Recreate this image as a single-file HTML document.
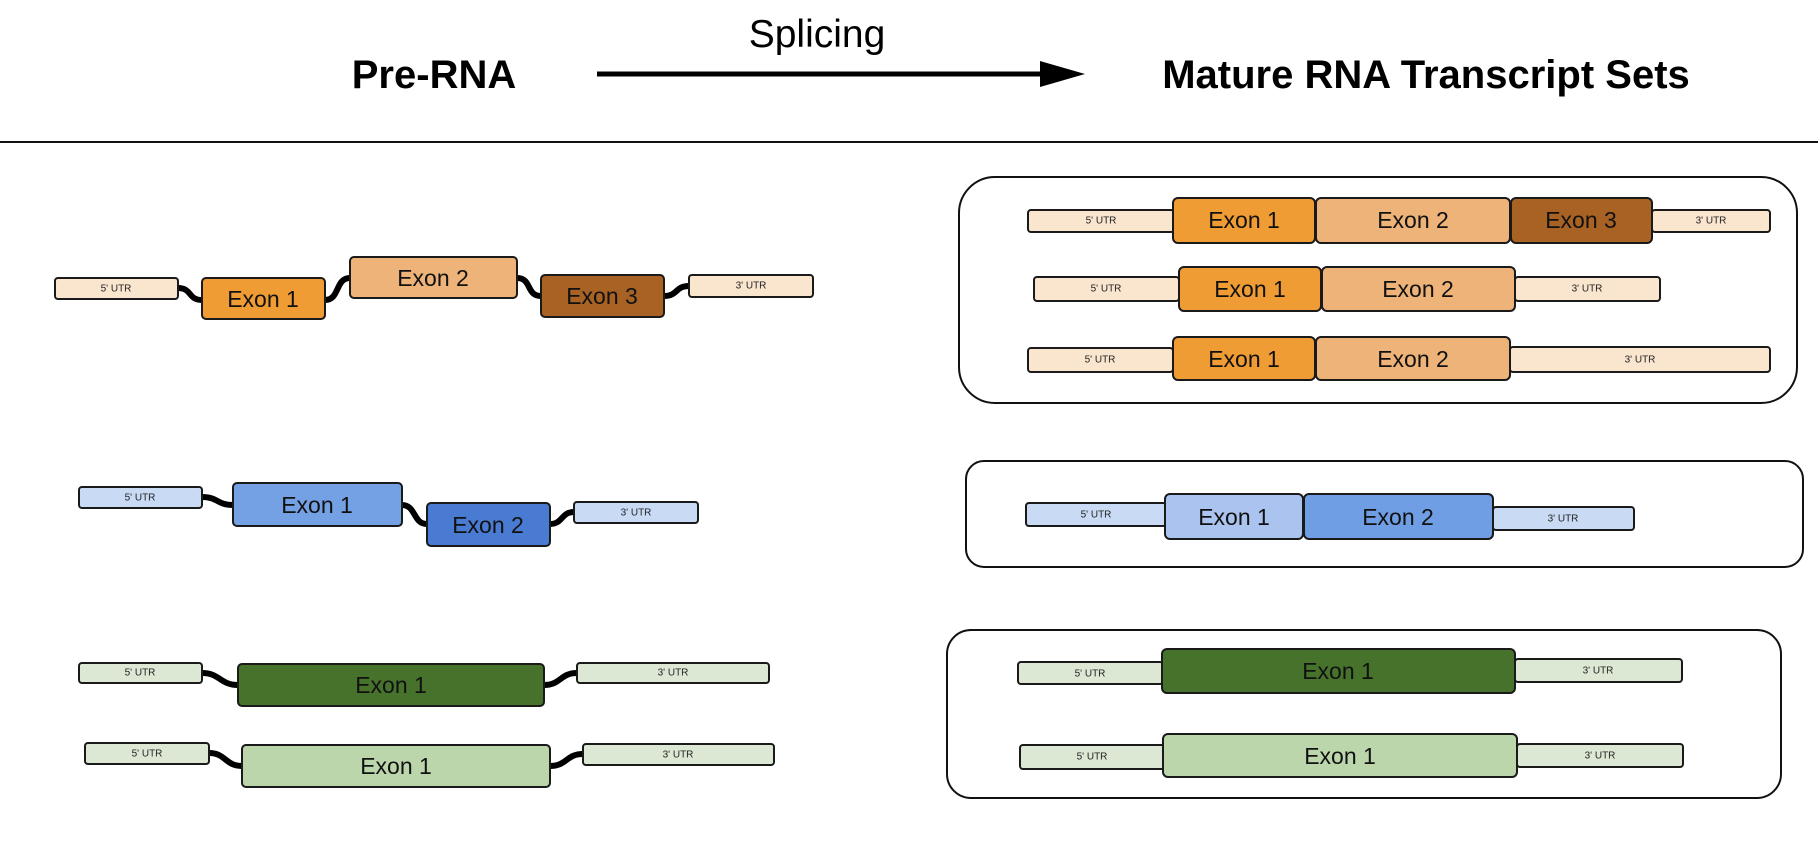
<!DOCTYPE html>
<html><head><meta charset="utf-8"><style>
html,body{margin:0;padding:0;background:#fff;}
svg{display:block;font-family:"Liberation Sans",Arial,sans-serif;}
.b{stroke:#1a1a1a;stroke-width:2;}
.c{fill:none;stroke:#000;stroke-width:6;}
.e{font-size:23px;text-anchor:middle;dominant-baseline:central;fill:#111;}
.u{font-size:10px;text-anchor:middle;dominant-baseline:central;fill:#222;}
</style></head><body>
<svg width="1818" height="850" viewBox="0 0 1818 850">
<text x="817" y="47" font-size="39" text-anchor="middle">Splicing</text>
<text x="434" y="88" font-size="40" font-weight="bold" text-anchor="middle">Pre-RNA</text>
<line x1="597" y1="74" x2="1045" y2="74" stroke="#000" stroke-width="5"/>
<polygon points="1040,61 1085,74 1040,87" fill="#000"/>
<text x="1426" y="88" font-size="40" font-weight="bold" text-anchor="middle">Mature RNA Transcript Sets</text>
<line x1="0" y1="142" x2="1818" y2="142" stroke="#111" stroke-width="2"/>

<!-- Left row 1 -->
<path class="c" d="M178 288 C192 288 188 300 202 300"/>
<path class="c" d="M325 300 C340 300 335 278 350 278"/>
<path class="c" d="M517 278 C532 278 526 296 541 296"/>
<path class="c" d="M664 296 C678 296 675 286 689 286"/>
<rect class="b" x="55" y="278" width="123" height="21" rx="3" fill="#fae5cf"/><text class="u" x="116" y="289">5' UTR</text>
<rect class="b" x="202" y="278" width="123" height="41" rx="4" fill="#f09c35"/><text class="e" x="263" y="299">Exon 1</text>
<rect class="b" x="350" y="257" width="167" height="41" rx="4" fill="#edb378"/><text class="e" x="433" y="278">Exon 2</text>
<rect class="b" x="541" y="275" width="123" height="42" rx="4" fill="#a86224"/><text class="e" x="602" y="296">Exon 3</text>
<rect class="b" x="689" y="275" width="124" height="22" rx="3" fill="#fae5cf"/><text class="u" x="751" y="286">3' UTR</text>

<!-- Left row 2 -->
<path class="c" d="M202 497 C218 497 217 505 233 505"/>
<path class="c" d="M402 505 C416 505 413 524 427 524"/>
<path class="c" d="M550 524 C563 524 561 512 574 512"/>
<rect class="b" x="79" y="487" width="123" height="21" rx="3" fill="#c9daf5"/><text class="u" x="140" y="498">5' UTR</text>
<rect class="b" x="233" y="483" width="169" height="43" rx="4" fill="#74a0e4"/><text class="e" x="317" y="505">Exon 1</text>
<rect class="b" x="427" y="503" width="123" height="43" rx="4" fill="#4a7bd2"/><text class="e" x="488" y="525">Exon 2</text>
<rect class="b" x="574" y="502" width="124" height="21" rx="3" fill="#c9daf5"/><text class="u" x="636" y="513">3' UTR</text>

<!-- Left row 3 -->
<path class="c" d="M202 673 C220 673 220 685 238 685"/>
<path class="c" d="M544 685 C561 685 560 673 577 673"/>
<rect class="b" x="79" y="663" width="123" height="20" rx="3" fill="#dce8d4"/><text class="u" x="140" y="673">5' UTR</text>
<rect class="b" x="238" y="664" width="306" height="42" rx="4" fill="#47722b"/><text class="e" x="391" y="685">Exon 1</text>
<rect class="b" x="577" y="663" width="192" height="20" rx="3" fill="#dce8d4"/><text class="u" x="673" y="673">3' UTR</text>

<!-- Left row 4 -->
<path class="c" d="M209 753 C226 753 225 766 242 766"/>
<path class="c" d="M550 766 C567 766 566 754 583 754"/>
<rect class="b" x="85" y="743" width="124" height="21" rx="3" fill="#dce8d4"/><text class="u" x="147" y="754">5' UTR</text>
<rect class="b" x="242" y="745" width="308" height="42" rx="4" fill="#bcd6ac"/><text class="e" x="396" y="766">Exon 1</text>
<rect class="b" x="583" y="744" width="191" height="21" rx="3" fill="#dce8d4"/><text class="u" x="678" y="755">3' UTR</text>

<!-- Right box 1 -->
<rect x="959" y="177" width="838" height="226" rx="36" fill="none" stroke="#111" stroke-width="2"/>
<rect class="b" x="1028" y="210" width="146" height="22" rx="3" fill="#fae5cf"/><text class="u" x="1101" y="221">5' UTR</text>
<rect class="b" x="1652" y="210" width="118" height="22" rx="3" fill="#fae5cf"/><text class="u" x="1711" y="221">3' UTR</text>
<rect class="b" x="1173" y="198" width="142" height="45" rx="5" fill="#f09c35"/><text class="e" x="1244" y="220">Exon 1</text>
<rect class="b" x="1316" y="198" width="194" height="45" rx="5" fill="#edb378"/><text class="e" x="1413" y="220">Exon 2</text>
<rect class="b" x="1511" y="198" width="141" height="45" rx="5" fill="#a86224"/><text class="e" x="1581" y="220">Exon 3</text>

<rect class="b" x="1034" y="277" width="145" height="24" rx="3" fill="#fae5cf"/><text class="u" x="1106" y="289">5' UTR</text>
<rect class="b" x="1515" y="277" width="145" height="24" rx="3" fill="#fae5cf"/><text class="u" x="1587" y="289">3' UTR</text>
<rect class="b" x="1179" y="267" width="142" height="44" rx="5" fill="#f09c35"/><text class="e" x="1250" y="289">Exon 1</text>
<rect class="b" x="1322" y="267" width="193" height="44" rx="5" fill="#edb378"/><text class="e" x="1418" y="289">Exon 2</text>

<rect class="b" x="1028" y="348" width="145" height="24" rx="3" fill="#fae5cf"/><text class="u" x="1100" y="360">5' UTR</text>
<rect class="b" x="1510" y="347" width="260" height="25" rx="3" fill="#fae5cf"/><text class="u" x="1640" y="360">3' UTR</text>
<rect class="b" x="1173" y="337" width="142" height="43" rx="5" fill="#f09c35"/><text class="e" x="1244" y="359">Exon 1</text>
<rect class="b" x="1316" y="337" width="194" height="43" rx="5" fill="#edb378"/><text class="e" x="1413" y="359">Exon 2</text>

<!-- Right box 2 -->
<rect x="966" y="461" width="837" height="106" rx="18" fill="none" stroke="#111" stroke-width="2"/>
<rect class="b" x="1026" y="503" width="140" height="23" rx="3" fill="#c9daf5"/><text class="u" x="1096" y="515">5' UTR</text>
<rect class="b" x="1493" y="507" width="141" height="23" rx="3" fill="#c9daf5"/><text class="u" x="1563" y="519">3' UTR</text>
<rect class="b" x="1165" y="494" width="138" height="45" rx="5" fill="#abc4ef"/><text class="e" x="1234" y="517">Exon 1</text>
<rect class="b" x="1304" y="494" width="189" height="45" rx="5" fill="#6f9ee4"/><text class="e" x="1398" y="517">Exon 2</text>

<!-- Right box 3 -->
<rect x="947" y="630" width="834" height="168" rx="24" fill="none" stroke="#111" stroke-width="2"/>
<rect class="b" x="1018" y="662" width="145" height="22" rx="3" fill="#dce8d4"/><text class="u" x="1090" y="674">5' UTR</text>
<rect class="b" x="1515" y="659" width="167" height="23" rx="3" fill="#dce8d4"/><text class="u" x="1598" y="671">3' UTR</text>
<rect class="b" x="1162" y="649" width="353" height="44" rx="5" fill="#47722b"/><text class="e" x="1338" y="671">Exon 1</text>
<rect class="b" x="1020" y="745" width="145" height="24" rx="3" fill="#dce8d4"/><text class="u" x="1092" y="757">5' UTR</text>
<rect class="b" x="1517" y="744" width="166" height="23" rx="3" fill="#dce8d4"/><text class="u" x="1600" y="756">3' UTR</text>
<rect class="b" x="1163" y="734" width="354" height="43" rx="5" fill="#bcd6ac"/><text class="e" x="1340" y="756">Exon 1</text>
</svg>
</body></html>
